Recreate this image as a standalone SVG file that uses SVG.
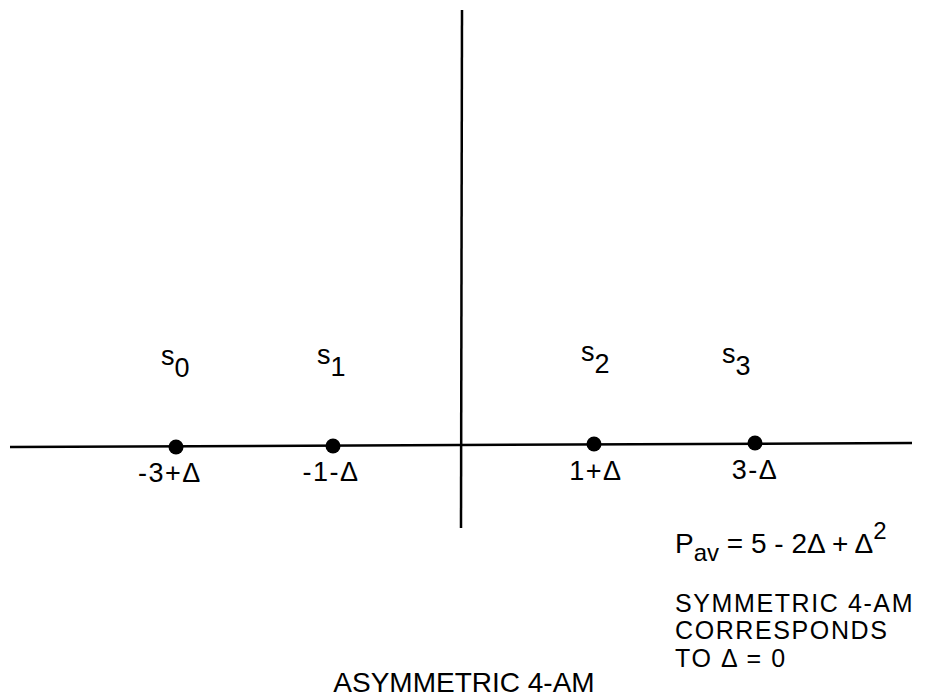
<svg xmlns="http://www.w3.org/2000/svg" width="931" height="697" viewBox="0 0 931 697">
<style>
text{font-family:"Liberation Sans",Arial,sans-serif;fill:#000;font-size:28px}
.ax{stroke:#000;stroke-width:2.5;fill:none}
.dot{fill:#000}
.lab{font-size:27px;letter-spacing:1.5px}
.sub{font-size:27px}
.note{font-size:25px;letter-spacing:1.6px}
</style>
<rect width="931" height="697" fill="#fff"/>
<g id="axes">
<line class="ax" x1="10" y1="447" x2="912" y2="443"/>
<line class="ax" x1="462" y1="10" x2="461" y2="528"/>
</g>
<g id="s0"><circle class="dot" cx="176" cy="447" r="7.5"/><text class="sub" x="161" y="365">s<tspan dy="12">0</tspan></text><text class="lab" x="170" y="482" text-anchor="middle">-3+Δ</text></g>
<g id="s1"><circle class="dot" cx="333" cy="446" r="7.5"/><text class="sub" x="317" y="364">s<tspan dy="12">1</tspan></text><text class="lab" x="331" y="481" text-anchor="middle">-1-Δ</text></g>
<g id="s2"><circle class="dot" cx="594" cy="444" r="7.5"/><text class="sub" x="581" y="361">s<tspan dy="12">2</tspan></text><text class="lab" x="596" y="480" text-anchor="middle">1+Δ</text></g>
<g id="s3"><circle class="dot" cx="755" cy="443" r="7.5"/><text class="sub" x="722" y="363">s<tspan dy="12">3</tspan></text><text class="lab" x="755" y="479" text-anchor="middle">3-Δ</text></g>
<g id="notes">
<text x="675" y="553">P<tspan font-size="24" dy="8">av</tspan><tspan dy="-8"> = 5 - 2Δ + Δ</tspan><tspan font-size="24" dy="-14">2</tspan></text>
<text class="note" x="675" y="612">SYMMETRIC 4-AM</text>
<text class="note" x="675" y="639">CORRESPONDS</text>
<text class="note" x="675" y="667">TO Δ = 0</text>
<text x="464" y="692" text-anchor="middle">ASYMMETRIC 4-AM</text>
</g>
</svg>
